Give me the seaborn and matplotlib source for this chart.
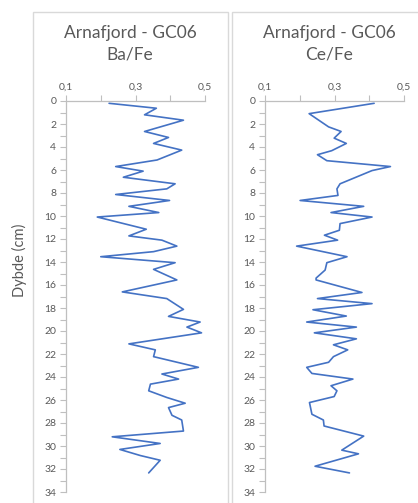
import matplotlib
matplotlib.use("Agg")
import matplotlib.pyplot as plt
import seaborn as sns
import pandas as pd
from matplotlib.patches import Rectangle

# ---- data ----
ba_depth = [0.2, 0.63, 1.2, 1.67, 2.65, 3.17, 3.69, 4.27, 5.13, 5.7, 6.1, 6.63, 7.2, 7.64,
            8.13, 8.65, 9.16, 9.7, 10.09, 11.15, 11.73, 12.1, 12.62, 13.1, 13.54, 14.06,
            14.64, 15.56, 16.6, 17.18, 18.12, 18.73, 19.22, 19.66, 20.16, 21.12, 21.64,
            22.23, 23.16, 23.74, 24.18, 24.62, 25.2, 25.78, 26.28, 26.66, 27.33, 27.74,
            28.7, 29.2, 29.78, 30.3, 30.83, 31.24, 32.34]
ba_fe = [0.224, 0.36, 0.326, 0.438, 0.326, 0.395, 0.352, 0.433, 0.362, 0.243, 0.322, 0.265,
         0.414, 0.39, 0.243, 0.398, 0.281, 0.367, 0.19, 0.331, 0.281, 0.376, 0.419, 0.352,
         0.2, 0.414, 0.352, 0.419, 0.262, 0.39, 0.438, 0.395, 0.486, 0.448, 0.49, 0.281,
         0.357, 0.352, 0.481, 0.376, 0.424, 0.343, 0.338, 0.39, 0.443, 0.395, 0.405, 0.433,
         0.438, 0.233, 0.371, 0.255, 0.314, 0.371, 0.338]

ce_depth = [0.2, 1.1, 2.25, 2.65, 3.23, 3.69, 4.32, 4.67, 5.19, 5.7, 6.05, 7.2, 7.64, 8.21,
            8.65, 9.16, 9.7, 10.09, 10.66, 11.24, 11.67, 12.1, 12.62, 13.54, 14.06, 14.7,
            15.4, 15.56, 16.65, 17.18, 17.62, 18.15, 18.7, 19.22, 19.66, 20.16, 20.68, 21.2,
            21.64, 22.23, 22.72, 23.16, 23.69, 24.18, 24.76, 25.2, 25.7, 26.22, 27.24, 27.74,
            28.26, 29.14, 30.36, 30.68, 31.76, 32.34]
ce_fe = [0.414, 0.227, 0.283, 0.319, 0.299, 0.334, 0.292, 0.251, 0.278, 0.461, 0.408, 0.316,
         0.307, 0.31, 0.201, 0.384, 0.29, 0.408, 0.316, 0.314, 0.271, 0.309, 0.191, 0.336,
         0.278, 0.273, 0.247, 0.247, 0.379, 0.251, 0.408, 0.238, 0.334, 0.22, 0.363, 0.242,
         0.363, 0.297, 0.338, 0.297, 0.283, 0.22, 0.235, 0.353, 0.29, 0.307, 0.299, 0.228,
         0.235, 0.268, 0.27, 0.384, 0.321, 0.369, 0.244, 0.343]

x_ticks = [0.1, 0.3, 0.5]
x_ticklabels = ["0,1", "0,3", "0,5"]
y_ticks = list(range(0, 35, 2))
titles = ["Arnafjord - GC06\nBa/Fe", "Arnafjord - GC06\nCe/Fe"]
ylabel = "Dybde (cm)"

sns.set_style("white")
plt.rcParams['font.family'] = ['Lato', 'DejaVu Sans']

W, H = 418, 503
fig = plt.figure(figsize=(W / 100, H / 100), dpi=100)

line_color = "#4472C4"
grey_txt = "#595959"
axis_col = "#BFBFBF"

# panel boxes
for (x0, x1) in [(33, 228), (232, 430)]:
    fig.patches.append(Rectangle((x0 / W, -0.1), (x1 - x0) / W, 1 - 12 / H + 0.1,
                                 transform=fig.transFigure, fill=False,
                                 edgecolor="#D9D9D9", linewidth=1.0))

panels = [(66, ba_depth, ba_fe, titles[0]), (265, ce_depth, ce_fe, titles[1])]
for i, (xl, dep, val, title) in enumerate(panels):
    ax = fig.add_axes([xl / W, 1 - 492 / H, 139 / W, 391 / H])
    df = pd.DataFrame({"depth": dep, "value": val})
    sns.lineplot(data=df, x="value", y="depth", sort=False, orient="y", estimator=None,
                 ax=ax, color=line_color, linewidth=1.2)
    ax.set_xlim(0.1, 0.5)
    ax.set_ylim(34, 0)
    ax.xaxis.tick_top()
    ax.set_xticks(x_ticks)
    ax.set_xticklabels(x_ticklabels)
    ax.set_xticks([0.2, 0.4], minor=True)
    ax.set_yticks(y_ticks)
    ax.set_yticks(list(range(1, 34, 2)), minor=True)
    for s in ["right", "bottom"]:
        ax.spines[s].set_visible(False)
    for s in ["top", "left"]:
        ax.spines[s].set_color(axis_col)
        ax.spines[s].set_linewidth(0.9)
    ax.tick_params(axis="both", which="both", direction="out", length=4, width=0.8,
                   color=axis_col, labelcolor=grey_txt, labelsize=7.5)
    ax.tick_params(axis="x", which="both", top=True, bottom=False, pad=3)
    ax.tick_params(axis="y", which="both", left=True, pad=3)
    ax.set_xlabel("")
    ax.set_ylabel("")
    ax.grid(False)
    fig.text((xl + 64) / W, 1 - 44 / H, title, ha="center", va="center",
             fontsize=12.5, color=grey_txt, linespacing=1.45)

fig.text(19 / W, 1 - 260 / H, ylabel, rotation=90, ha="center", va="center",
         fontsize=10.5, color=grey_txt)

fig.savefig("out.png", dpi=100, facecolor="white")
